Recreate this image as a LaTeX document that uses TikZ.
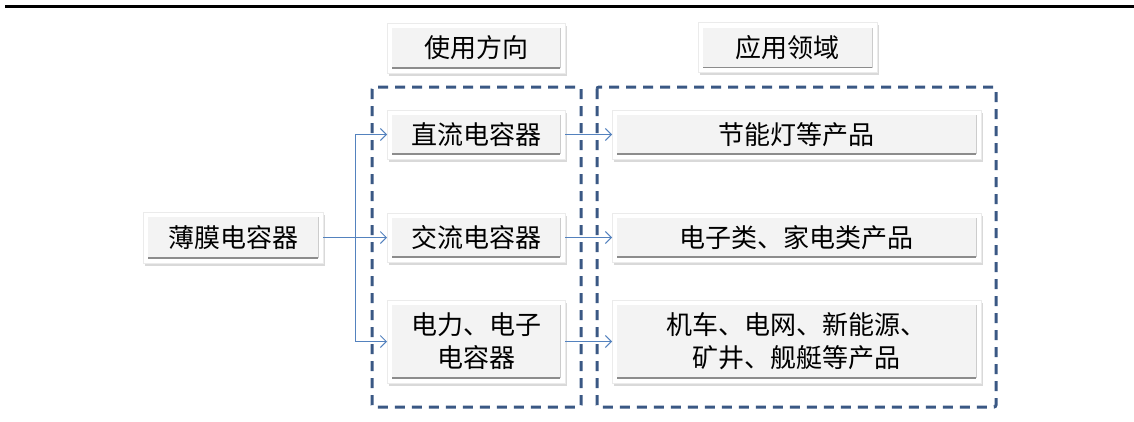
\documentclass[tikz,border=0pt]{standalone}
\usepackage{fontspec}
\newfontfamily\cjk{Noto Sans CJK SC}
\usetikzlibrary{shadows,arrows.meta}
\definecolor{conn}{RGB}{84,130,190}
\definecolor{dashc}{RGB}{58,88,132}
\definecolor{boxfill}{RGB}{243,243,243}
\begin{document}
\begin{tikzpicture}[x=1pt,y=-1pt,
  box/.style={rectangle, fill=white, draw=black!8, line width=0.6pt,
    drop shadow={shadow xshift=1.5pt, shadow yshift=-2.5pt, opacity=0.3},
    inner sep=0pt, outer sep=0pt, align=center,
    font=\cjk\fontsize{26}{33}\selectfont,
    path picture={
      \fill[boxfill] ([xshift=5pt,yshift=-5pt]path picture bounding box.north west) rectangle ([xshift=-5pt,yshift=5pt]path picture bounding box.south east);
      \draw[black!45, line width=1.3pt] ([xshift=5pt,yshift=5pt]path picture bounding box.south west) -- ([xshift=-5pt,yshift=5pt]path picture bounding box.south east);
      \draw[black!20, line width=1pt] ([xshift=-5pt,yshift=5pt]path picture bounding box.south east) -- ([xshift=-5pt,yshift=-5pt]path picture bounding box.north east);
    }},
  group/.style={draw=dashc, line width=3pt, dash pattern=on 10pt off 7pt, rounded corners=2pt},
  link/.style={draw=conn, line width=1pt, -{Straight Barb[length=6pt,width=12pt,line width=1pt]}},
  trunk/.style={draw=conn, line width=1pt}
]
\useasboundingbox (0,0) rectangle (1134,421);
\draw[line width=2.2pt] (5,6.5) -- (1134,6.5);

\draw[group] (372,87) rectangle (581,407);
\draw[group] (597,87) rectangle (996,407);

\node[box, minimum width=180pt, minimum height=51pt] (main) at (233,237.5) {薄膜电容器};
\node[box, minimum width=178pt, minimum height=50pt] (h1) at (476,48) {使用方向};
\node[box, minimum width=179pt, minimum height=50pt] (h2) at (787.5,47.5) {应用领域};

\node[box, minimum width=178pt, minimum height=49pt] (m1) at (476,134.5) {直流电容器};
\node[box, minimum width=178pt, minimum height=49pt] (m2) at (476,237.5) {交流电容器};
\node[box, minimum width=178pt, minimum height=83pt] (m3) at (476,341.5) {电力、电子\\电容器};

\node[box, minimum width=369pt, minimum height=49pt] (r1) at (796.5,134.5) {节能灯等产品};
\node[box, minimum width=369pt, minimum height=49pt] (r2) at (796.5,237.5) {电子类、家电类产品};
\node[box, minimum width=369pt, minimum height=83pt] (r3) at (796.5,341.5) {机车、电网、新能源、\\矿井、舰艇等产品};

\coordinate (j) at (355,237.5);
\draw[trunk] (main.east) -- (j);
\draw[link] (j) |- (m1.west);
\draw[link] (j) -- (m2.west);
\draw[link] (j) |- (m3.west);

\draw[link] (m1.east) -- (r1.west);
\draw[link] (m2.east) -- (r2.west);
\draw[link] (m3.east) -- (r3.west);
\end{tikzpicture}
\end{document}
